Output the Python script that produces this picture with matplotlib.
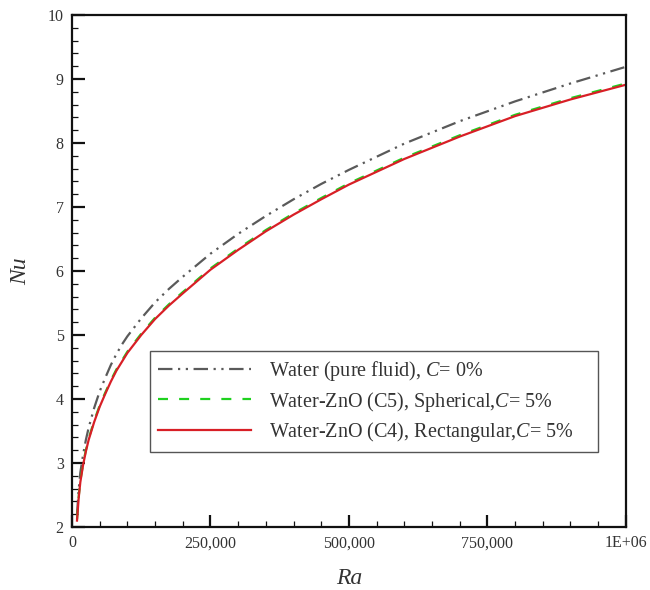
import matplotlib
matplotlib.use("Agg")
import matplotlib.pyplot as plt
from matplotlib.ticker import MultipleLocator, FixedLocator, FixedFormatter

ra = [9000, 12000, 15000, 20000, 25000, 30000, 40000, 50000, 60000, 70000, 80000,
      90000, 100000, 125000, 150000, 175000, 200000, 250000, 300000, 350000,
      400000, 450000, 500000, 600000, 700000, 800000, 900000, 1000000]
nu_water = [2.20, 2.58, 2.85, 3.13, 3.36, 3.55, 3.86, 4.12, 4.33, 4.53, 4.70,
            4.85, 4.98, 5.26, 5.51, 5.72, 5.91, 6.27, 6.58, 6.86,
            7.12, 7.36, 7.58, 7.99, 8.34, 8.65, 8.93, 9.19]
nu_sph = [2.12, 2.47, 2.72, 2.99, 3.20, 3.38, 3.66, 3.90, 4.10, 4.29, 4.46,
          4.60, 4.74, 5.02, 5.27, 5.48, 5.67, 6.04, 6.35, 6.64,
          6.90, 7.14, 7.37, 7.77, 8.12, 8.44, 8.70, 8.93]
nu_rect = [2.10, 2.45, 2.70, 2.97, 3.18, 3.36, 3.64, 3.88, 4.08, 4.27, 4.44,
           4.58, 4.72, 5.00, 5.25, 5.46, 5.65, 6.02, 6.33, 6.62,
           6.88, 7.12, 7.35, 7.75, 8.10, 8.42, 8.68, 8.91]

labels = ["Water (pure fluid), $\\mathit{C}$= 0%",
          "Water-ZnO (C5), Spherical,$\\mathit{C}$= 5%",
          "Water-ZnO (C4), Rectangular,$\\mathit{C}$= 5%"]
xticks = [0, 250000, 500000, 750000, 1000000]
xticklabels = ["0", "250,000", "500,000", "750,000", "1E+06"]

plt.rcParams['font.family'] = ['Liberation Serif', 'DejaVu Serif']
plt.rcParams['mathtext.fontset'] = 'custom'
plt.rcParams['mathtext.it'] = 'Liberation Serif:italic'
plt.rcParams['mathtext.rm'] = 'Liberation Serif'

fig = plt.figure(figsize=(6.5, 5.9), dpi=100)
ax = fig.add_axes([0.1108, 0.1068, 0.852, 0.8678])

ax.plot(ra, nu_water, color='#5a5a5a', lw=1.6, dashes=(6.5, 2.5, 1, 2.5, 1, 2.5),
        label=labels[0])
ax.plot(ra, nu_sph, color='#1fd11f', lw=1.6, dashes=(4.5, 5), label=labels[1])
ax.plot(ra, nu_rect, color='#d81f26', lw=1.6, label=labels[2])

ax.set_xlim(0, 1000000)
ax.set_ylim(2, 10)
ax.xaxis.set_major_locator(FixedLocator(xticks))
ax.xaxis.set_major_formatter(FixedFormatter(xticklabels))
ax.xaxis.set_minor_locator(MultipleLocator(50000))
ax.yaxis.set_major_locator(MultipleLocator(1))
ax.yaxis.set_minor_locator(MultipleLocator(0.2))

ax.tick_params(which='both', direction='in', top=False, right=False,
               labelsize=11.5, labelcolor='#333333', color='#111111')
ax.tick_params(which='major', length=9, width=1.6, pad=6)
ax.tick_params(which='minor', length=4.5, width=0.9)
for s in ax.spines.values():
    s.set_linewidth(1.6)
    s.set_color('#111111')

ax.set_xlabel("Ra", fontsize=17, style='italic', color='#333333', labelpad=12)
ax.set_ylabel("Nu", fontsize=17, style='italic', color='#333333', labelpad=12)

leg = ax.legend(loc='lower left', bbox_to_anchor=(0.141, 0.146, 0.808, 0.196),
                mode='expand', fontsize=14.5, handlelength=4.6, handletextpad=0.9,
                labelspacing=0.33, borderaxespad=0, fancybox=False, framealpha=1,
                edgecolor='#555555', borderpad=0.4)
leg.get_frame().set_linewidth(1.0)
for t in leg.get_texts():
    t.set_color('#333333')

fig.savefig("out.png", dpi=100)
